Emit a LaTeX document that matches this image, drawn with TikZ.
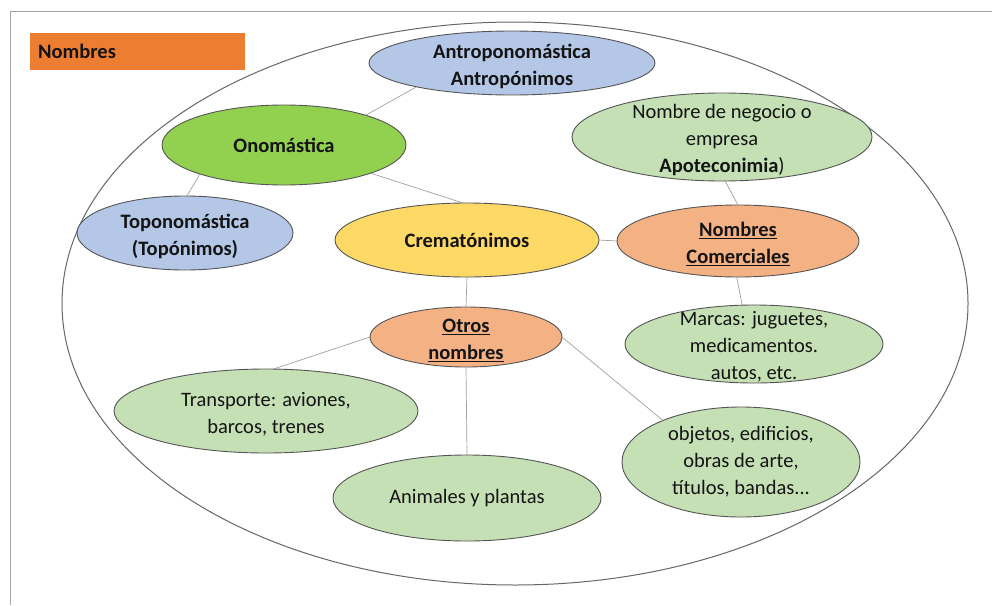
\documentclass[tikz,border=0pt]{standalone}
\usepackage{fontspec}
\setmainfont{Carlito}
\usetikzlibrary{shapes.geometric}
\definecolor{cOrange}{HTML}{ED7D31}
\definecolor{cBlue}{HTML}{B4C7E7}
\definecolor{cGreen}{HTML}{92D050}
\definecolor{cYellow}{HTML}{FFD966}
\definecolor{cPeach}{HTML}{F4B183}
\definecolor{cLight}{HTML}{C5E0B4}
\definecolor{cEdge}{HTML}{555555}
\definecolor{cConn}{HTML}{A0A0A0}
\definecolor{cText}{HTML}{141414}
\tikzset{
  ell/.style={ellipse, draw=cEdge, line width=0.9pt, inner sep=0pt, outer sep=0pt},
  txt/.style={align=center, text=cText, inner sep=0pt, font=\fontsize{20.5}{27}\selectfont},
  btxt/.style={txt, font=\fontsize{20.5}{27}\selectfont\bfseries},
  ml/.style={yshift=-3pt},
  conn/.style={draw=cConn, line width=0.7pt},
  frame/.style={draw=gray!70, line width=0.8pt},
  outerell/.style={ellipse, draw=cEdge!90, line width=1pt, inner sep=0pt}
}
\begin{document}
\begin{tikzpicture}[x=1pt,y=-1pt]
\useasboundingbox (0,0) rectangle (992,605);
\draw[frame] (10,605) -- (10,11) -- (992,11);
\node[outerell, minimum width=906pt, minimum height=563pt] (outer) at (515,303.5) {};

\node[fill=cOrange, anchor=north west, minimum width=215pt, minimum height=37pt,
      text width=199pt, inner xsep=8pt, align=left, text=cText,
      font=\fontsize{20.5}{22}\selectfont\bfseries] (title) at (30,33) {Nombres};

\node[ell, fill=cBlue, minimum width=286pt, minimum height=64pt,
  label={[btxt,ml]center:Antroponomástica\\Antropónimos}] (antro) at (512,63) {};
\node[ell, fill=cGreen, minimum width=244pt, minimum height=80pt,
  label={[btxt]center:Onomástica}] (onom) at (284,145) {};
\node[ell, fill=cBlue, minimum width=216pt, minimum height=74pt,
  label={[btxt,ml]center:Toponomástica\\(Topónimos)}] (topo) at (185,233) {};
\node[ell, fill=cYellow, minimum width=264pt, minimum height=74pt,
  label={[btxt]center:Crematónimos}] (crem) at (467,240) {};
\node[ell, fill=cLight, minimum width=300pt, minimum height=88pt,
  label={[txt,ml]center:Nombre de negocio o\\empresa\\\textbf{Apoteconimia})}] (negocio) at (722,137) {};
\node[ell, fill=cPeach, minimum width=242pt, minimum height=72pt,
  label={[btxt,ml]center:\underline{Nombres}\\\underline{Comerciales}}] (nc) at (738,241) {};
\node[ell, fill=cLight, minimum width=258pt, minimum height=78pt,
  label={[txt,ml]center:Marcas: juguetes,\\medicamentos.\\autos, etc.}] (marcas) at (754,344) {};
\node[ell, fill=cPeach, minimum width=192pt, minimum height=60pt,
  label={[btxt,ml]center:\underline{Otros}\\\underline{nombres}}] (otros) at (466,337) {};
\node[ell, fill=cLight, minimum width=304pt, minimum height=84pt,
  label={[txt,ml]center:Transporte: aviones,\\barcos, trenes}] (transp) at (266,411) {};
\node[ell, fill=cLight, minimum width=268pt, minimum height=86pt,
  label={[txt]center:Animales y plantas}] (anim) at (467,498) {};
\node[ell, fill=cLight, minimum width=238pt, minimum height=110pt,
  label={[txt]center:objetos, edificios,\\obras de arte,\\títulos, bandas...}] (objetos) at (741,462) {};

\draw[conn] (antro.194) -- (onom.20);
\draw[conn] (onom.199) -- (topo.87);
\draw[conn] (onom.342) -- (crem.96);
\draw[conn] (crem.east) -- (nc.west);
\draw[conn] (negocio.274) -- (nc.90);
\draw[conn] (nc.268) -- (marcas.107);
\draw[conn] (crem.south) -- (otros.north);
\draw[conn] (otros.west) -- (transp.80);
\draw[conn] (otros.south) -- (anim.north);
\draw[conn] (otros.east) -- (objetos.152);
\end{tikzpicture}
\end{document}
